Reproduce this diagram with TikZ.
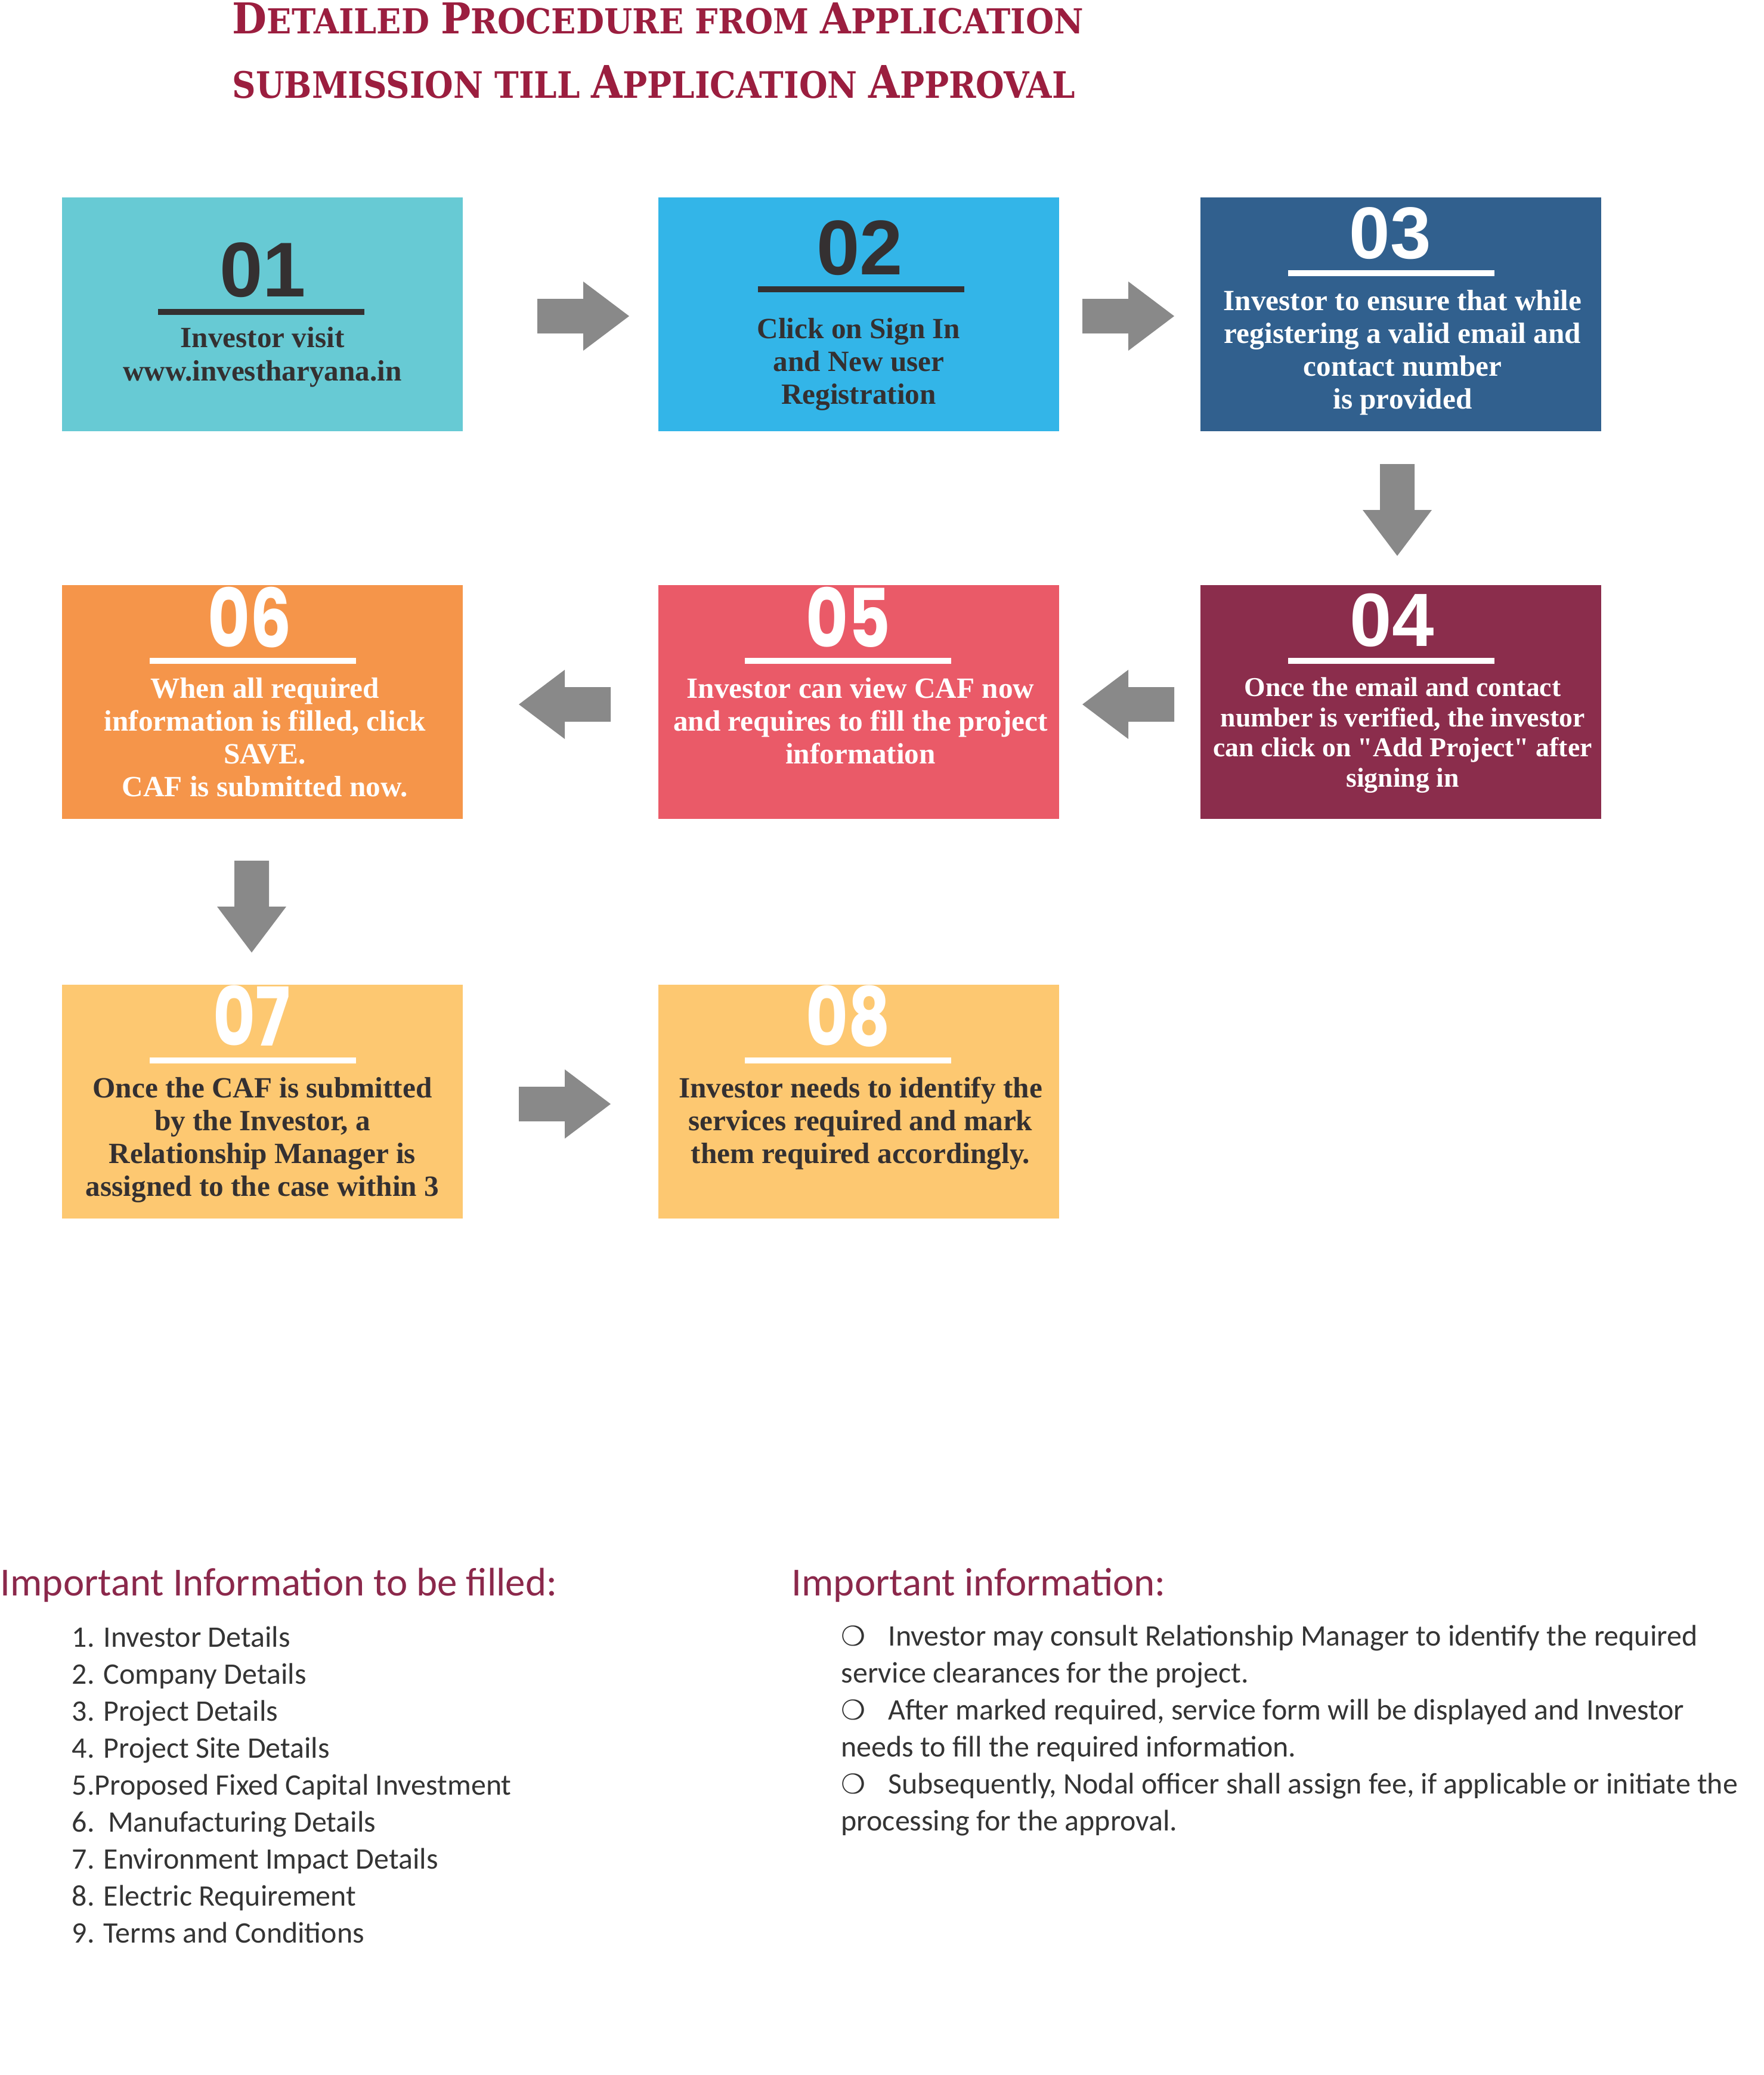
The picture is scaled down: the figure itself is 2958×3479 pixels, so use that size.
\documentclass[tikz,border=0pt]{standalone}
\usepackage{fontspec}
\usepackage{graphicx}
\setmainfont{Liberation Serif}
\newfontfamily\quotefont{Liberation Serif}
\newfontfamily\calibrifont{Carlito}
\newfontfamily\arialfont{Liberation Sans}
\newfontfamily\roundfont{Poppins}
\newfontfamily\slabfont{DejaVu Serif}
\newfontfamily\dingfont{DejaVu Sans}
\usetikzlibrary{positioning,calc}

\newlength\pxu
\setlength\pxu{0.01cm}

\definecolor{titlered}{RGB}{155,30,63}
\definecolor{headred}{RGB}{139,40,75}
\definecolor{tealbox}{RGB}{103,202,212}
\definecolor{skybox}{RGB}{51,181,232}
\definecolor{navybox}{RGB}{49,96,142}
\definecolor{winebox}{RGB}{139,45,76}
\definecolor{coralbox}{RGB}{234,90,104}
\definecolor{orangebox}{RGB}{245,149,74}
\definecolor{sandbox}{RGB}{253,200,113}
\definecolor{arrowgray}{RGB}{137,137,137}
\definecolor{inkdark}{RGB}{52,48,49}
\definecolor{listgray}{RGB}{52,52,52}

% title small caps and box texts
\newcommand\tsc[2]{{\fontsize{20pt}{20pt}\selectfont #1}#2}
\newcommand\boxtext[1]{\parbox[t]{720\pxu}{\centering #1}}
\newcommand\blt{\makebox[79\pxu][l]{\dingfont\fontsize{13pt}{13pt}\selectfont ❍}}
\newcommand\dq{{\quotefont"}}

\tikzset{
  stepbox/.style={minimum width=672\pxu, minimum height=392\pxu, inner sep=0pt},
  numlabel/.style={anchor=base, inner sep=0pt},
  numsquare/.style={numlabel, font=\arialfont\bfseries\fontsize{37pt}{37pt}\selectfont},
  numround/.style={numlabel, font=\roundfont\bfseries\fontsize{38.7pt}{38.7pt}\selectfont},
  rulebar/.style={minimum width=346\pxu, minimum height=10\pxu, inner sep=0pt},
  steptext/.style={anchor=base, inner sep=0pt, font=\bfseries\fontsize{14pt}{15.65pt}\selectfont},
  titletext/.style={anchor=base west, inner sep=0pt, text=titlered, font=\slabfont\bfseries\fontsize{16.2pt}{16pt}\selectfont},
  headtext/.style={anchor=base west, inner sep=0pt, text=headred, font=\calibrifont\fontsize{19pt}{19pt}\selectfont},
  listtext/.style={anchor=base west, inner sep=0pt, text=listgray, font=\calibrifont\fontsize{14.2pt}{17.64pt}\selectfont},
  blockarrow/.pic={\fill[arrowgray] (-77,-29) -- (0,-29) -- (0,-58) -- (77,0) -- (0,58) -- (0,29) -- (-77,29) -- cycle;}
}

\begin{document}
\begin{tikzpicture}[x=0.01cm, y=-0.01cm]
\useasboundingbox[fill=white] (0,0) rectangle (2958,3479);

% title
\node[titletext] (title1) at (389,57) {\resizebox{1427\pxu}{52\pxu}{\tsc{D}{ETAILED} \tsc{P}{ROCEDURE} FROM \tsc{A}{PPLICATION}}};
\node[titletext] (title2) at (389,165) {\resizebox{1413\pxu}{55\pxu}{SUBMISSION TILL \tsc{A}{PPLICATION} \tsc{A}{PPROVAL}}};

% step 01
\node[stepbox, fill=tealbox] (s01) at (440,527) {};
\node[numsquare, text=inkdark] (n01) at (441,498) {01};
\node[rulebar, fill=inkdark] (r01) at (438,523) {};
\node[steptext, text=inkdark, font=\bfseries\fontsize{14pt}{16pt}\selectfont] (t01) at (440,582) {\boxtext{Investor visit\\www.investharyana.in}};

% step 02
\node[stepbox, fill=skybox] (s02) at (1440,527) {};
\node[numsquare, text=inkdark] (n02) at (1442,460) {02};
\node[rulebar, fill=inkdark] (r02) at (1444,485) {};
\node[steptext, text=inkdark] (t02) at (1440,567) {\boxtext{Click on Sign In\\and New user\\Registration}};

% step 03
\node[stepbox, fill=navybox] (s03) at (2349,527) {};
\node[numsquare, text=white, font=\arialfont\bfseries\fontsize{35pt}{35pt}\selectfont] (n03) at (2331,433) {03};
\node[rulebar, fill=white] (r03) at (2333,458) {};
\node[steptext, text=white] (t03) at (2352,520) {\boxtext{Investor to ensure that while\\registering a valid email and\\contact number\\is provided}};

% step 04
\node[stepbox, fill=winebox] (s04) at (2349,1177) {};
\node[numsquare, text=white, font=\arialfont\bfseries\fontsize{36pt}{36pt}\selectfont] (n04) at (2334,1083) {04};
\node[rulebar, fill=white] (r04) at (2333,1108) {};
\node[steptext, text=white, font=\bfseries\fontsize{13pt}{14.5pt}\selectfont] (t04) at (2352,1167) {\boxtext{Once the email and contact\\number is verified, the investor\\can click on \dq Add Project\dq\ after\\signing in}};

% step 05
\node[stepbox, fill=coralbox] (s05) at (1440,1177) {};
\node[numround, text=white] (n05) at (1422,1085) {\scalebox{0.8}[1]{05}};
\node[rulebar, fill=white] (r05) at (1422,1108) {};
\node[steptext, text=white] (t05) at (1443,1170) {\boxtext{Investor can view CAF now\\and requires to fill the project\\information}};

% step 06
\node[stepbox, fill=orangebox] (s06) at (440,1177) {};
\node[numround, text=white] (n06) at (419,1085) {\scalebox{0.8}[1]{06}};
\node[rulebar, fill=white] (r06) at (424,1108) {};
\node[steptext, text=white] (t06) at (444,1170) {\boxtext{When all required\\information is filled, click\\SAVE.\\CAF is submitted now.}};

% step 07
\node[stepbox, fill=sandbox] (s07) at (440,1847) {};
\node[numround, text=white] (n07) at (422,1753) {\scalebox{0.8}[1]{07}};
\node[rulebar, fill=white] (r07) at (424,1778) {};
\node[steptext, text=inkdark] (t07) at (440,1840) {\boxtext{Once the CAF is submitted\\by the Investor, a\\Relationship Manager is\\assigned to the case within 3}};

% step 08
\node[stepbox, fill=sandbox] (s08) at (1440,1847) {};
\node[numround, text=white] (n08) at (1422,1753) {\scalebox{0.8}[1]{08}};
\node[rulebar, fill=white] (r08) at (1422,1778) {};
\node[steptext, text=inkdark] (t08) at (1443,1840) {\boxtext{Investor needs to identify the\\services required and mark\\them required accordingly.}};

% arrows between the steps
\coordinate (a12) at (978,530);
\coordinate (a23) at (1892,530);
\coordinate (a34) at (2343,855);
\coordinate (a45) at (1892,1181);
\coordinate (a56) at (947,1181);
\coordinate (a67) at (422,1520);
\coordinate (a78) at (947,1851);
\pic at (a12) {blockarrow};
\pic at (a23) {blockarrow};
\pic[rotate=-90] at (a34) {blockarrow};
\pic[rotate=180] at (a45) {blockarrow};
\pic[rotate=180] at (a56) {blockarrow};
\pic[rotate=-90] at (a67) {blockarrow};
\pic at (a78) {blockarrow};

% notes
\node[headtext] (head1) at (0,2675) {Important Information to be filled:};
\node[listtext] (list1) at (120,2761) {\parbox[t]{1000\pxu}{\raggedright
  1. Investor Details\\
  2. Company Details\\
  3. Project Details\\
  4. Project Site Details\\
  5.Proposed Fixed Capital Investment\\
  6.\ \ Manufacturing Details\\
  7. Environment Impact Details\\
  8. Electric Requirement\\
  9. Terms and Conditions}};

\node[headtext] (head2) at (1327,2675) {Important information:};
\node[listtext] (list2) at (1410,2759) {\parbox[t]{1560\pxu}{\raggedright
  \blt Investor may consult Relationship Manager to identify the required\\
  service clearances for the project.\\
  \blt After marked required, service form will be displayed and Investor\\
  needs to fill the required information.\\
  \blt Subsequently, Nodal officer shall assign fee, if applicable or initiate the\\
  processing for the approval.}};
\end{tikzpicture}
\end{document}
